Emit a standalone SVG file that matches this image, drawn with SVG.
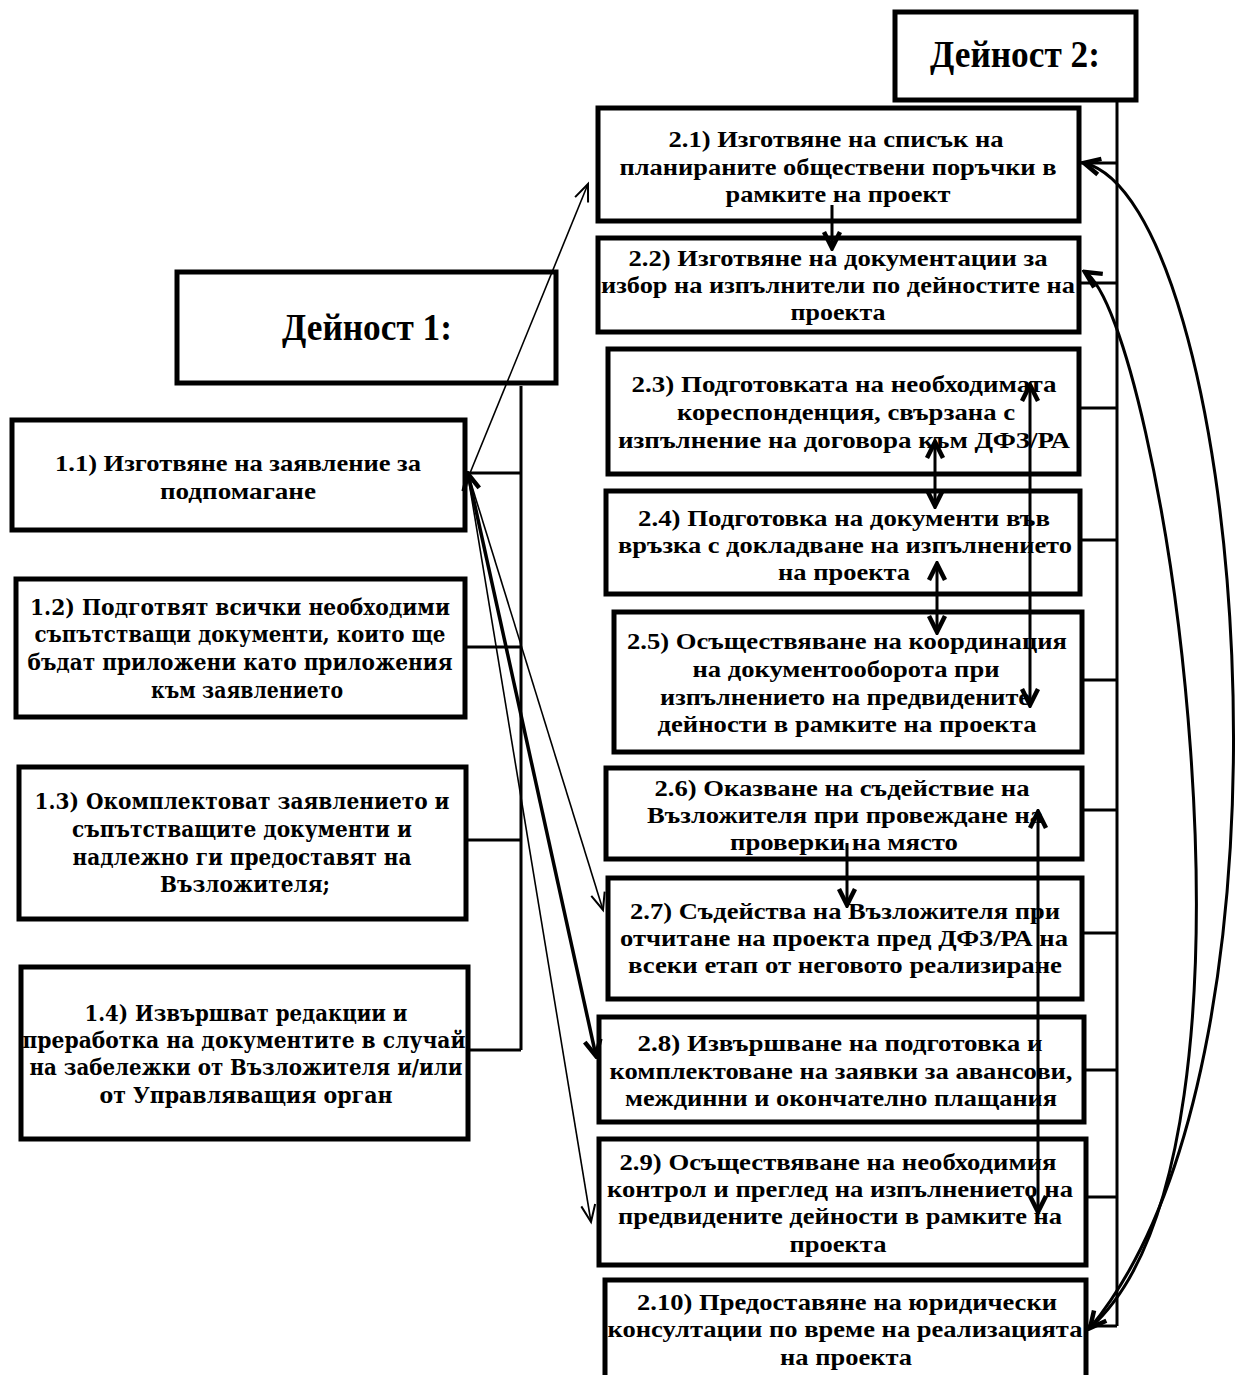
<svg xmlns="http://www.w3.org/2000/svg" width="1248" height="1375" viewBox="0 0 1248 1375">
<style>
.box{fill:#fff;stroke:#000;stroke-width:5}
.t{font-family:"Liberation Serif","Times New Roman",serif;font-weight:bold;font-size:24px;text-anchor:middle;fill:#000}
.h{font-family:"Liberation Serif","Times New Roman",serif;font-weight:bold;font-size:37px;text-anchor:middle;fill:#000}
.w{font-family:"DejaVu Serif",serif;font-weight:bold;font-size:22px;text-anchor:middle;fill:#000}
.ln{fill:none;stroke:#000;stroke-width:3}
.thin{fill:none;stroke:#000;stroke-width:1.6}
.thk{fill:none;stroke:#000;stroke-width:3.5}
</style>
<defs>
<marker id="av" markerUnits="userSpaceOnUse" markerWidth="24" markerHeight="24" viewBox="0 0 24 24" refX="21" refY="12" orient="auto-start-reverse">
<path d="M5,4 L21,12 L5,20" fill="none" stroke="#000" stroke-width="4.5" stroke-linejoin="miter"/>
</marker>
<marker id="at" markerUnits="userSpaceOnUse" markerWidth="24" markerHeight="24" viewBox="0 0 24 24" refX="21" refY="12" orient="auto-start-reverse">
<path d="M4,5 L21,12 L4,19" fill="none" stroke="#000" stroke-width="2"/>
</marker>
</defs>

<g id="d2">
<rect class="box" x="895" y="12" width="241" height="88"/>
<text class="h" x="1015" y="67" textLength="170" lengthAdjust="spacingAndGlyphs">Дейност 2:</text>
</g>
<g id="d1">
<rect class="box" x="177" y="272" width="379" height="111"/>
<text class="h" x="367" y="340" textLength="170" lengthAdjust="spacingAndGlyphs">Дейност 1:</text>
</g>

<g id="n11">
<rect class="box" x="12" y="420" width="453" height="110"/>
<text class="t" x="238" y="471" textLength="366" lengthAdjust="spacingAndGlyphs">1.1) Изготвяне на заявление за</text>
<text class="t" x="238" y="499" textLength="156" lengthAdjust="spacingAndGlyphs">подпомагане</text>
</g>
<g id="n12">
<rect class="box" x="16" y="579" width="449" height="138"/>
<text class="w" x="240" y="615" textLength="420" lengthAdjust="spacingAndGlyphs">1.2) Подготвят всички необходими</text>
<text class="w" x="240" y="642" textLength="411" lengthAdjust="spacingAndGlyphs">съпътстващи документи, които ще</text>
<text class="w" x="240" y="670" textLength="425" lengthAdjust="spacingAndGlyphs">бъдат приложени като приложения</text>
<text class="w" x="247" y="698" textLength="192" lengthAdjust="spacingAndGlyphs">към заявлението</text>
</g>
<g id="n13">
<rect class="box" x="19" y="767" width="447" height="152"/>
<text class="w" x="242" y="809" textLength="415" lengthAdjust="spacingAndGlyphs">1.3) Окомплектоват заявлението и</text>
<text class="w" x="242" y="837" textLength="340" lengthAdjust="spacingAndGlyphs">съпътстващите документи и</text>
<text class="w" x="242" y="865" textLength="339" lengthAdjust="spacingAndGlyphs">надлежно ги предоставят на</text>
<text class="w" x="245" y="892" textLength="170" lengthAdjust="spacingAndGlyphs">Възложителя;</text>
</g>
<g id="n14">
<rect class="box" x="21" y="967" width="447" height="172"/>
<text class="w" x="246" y="1021" textLength="323" lengthAdjust="spacingAndGlyphs">1.4) Извършват редакции и</text>
<text class="w" x="244" y="1048" textLength="443" lengthAdjust="spacingAndGlyphs">преработка на документите в случай</text>
<text class="w" x="246" y="1075" textLength="433" lengthAdjust="spacingAndGlyphs">на забележки от Възложителя и/или</text>
<text class="w" x="246" y="1103" textLength="293" lengthAdjust="spacingAndGlyphs">от Управляващия орган</text>
</g>

<g id="n21">
<rect class="box" x="598" y="108" width="481" height="113"/>
<text class="t" x="836" y="147" textLength="335" lengthAdjust="spacingAndGlyphs">2.1) Изготвяне на списък на</text>
<text class="t" x="838" y="175" textLength="437" lengthAdjust="spacingAndGlyphs">планираните обществени поръчки в</text>
<text class="t" x="838" y="202" textLength="225" lengthAdjust="spacingAndGlyphs">рамките на проект</text>
</g>
<g id="n22">
<rect class="box" x="598" y="238" width="481" height="94"/>
<text class="t" x="838" y="266" textLength="419" lengthAdjust="spacingAndGlyphs">2.2) Изготвяне на документации за</text>
<text class="t" x="838" y="293" textLength="474" lengthAdjust="spacingAndGlyphs">избор на изпълнители по дейностите на</text>
<text class="t" x="838" y="320" textLength="95" lengthAdjust="spacingAndGlyphs">проекта</text>
</g>
<g id="n23">
<rect class="box" x="608" y="349" width="471" height="125"/>
<text class="t" x="844" y="392" textLength="425" lengthAdjust="spacingAndGlyphs">2.3) Подготовката на необходимата</text>
<text class="t" x="846" y="420" textLength="338" lengthAdjust="spacingAndGlyphs">кореспонденция, свързана с</text>
<text class="t" x="844" y="448" textLength="452" lengthAdjust="spacingAndGlyphs">изпълнение на договора към ДФЗ/РА</text>
</g>
<g id="n24">
<rect class="box" x="606" y="491" width="474" height="103"/>
<text class="t" x="844" y="526" textLength="412" lengthAdjust="spacingAndGlyphs">2.4) Подготовка на документи във</text>
<text class="t" x="845" y="553" textLength="454" lengthAdjust="spacingAndGlyphs">връзка с докладване на изпълнението</text>
<text class="t" x="844" y="580" textLength="132" lengthAdjust="spacingAndGlyphs">на проекта</text>
</g>
<g id="n25">
<rect class="box" x="614" y="612" width="468" height="140"/>
<text class="t" x="847" y="649" textLength="440" lengthAdjust="spacingAndGlyphs">2.5) Осъществяване на координация</text>
<text class="t" x="846" y="677" textLength="307" lengthAdjust="spacingAndGlyphs">на документооборота при</text>
<text class="t" x="845" y="705" textLength="370" lengthAdjust="spacingAndGlyphs">изпълнението на предвидените</text>
<text class="t" x="847" y="732" textLength="379" lengthAdjust="spacingAndGlyphs">дейности в рамките на проекта</text>
</g>
<g id="n26">
<rect class="box" x="606" y="768" width="476" height="91"/>
<text class="t" x="842" y="796" textLength="375" lengthAdjust="spacingAndGlyphs">2.6) Оказване на съдействие на</text>
<text class="t" x="845" y="823" textLength="396" lengthAdjust="spacingAndGlyphs">Възложителя при провеждане на</text>
<text class="t" x="844" y="850" textLength="228" lengthAdjust="spacingAndGlyphs">проверки на място</text>
</g>
<g id="n27">
<rect class="box" x="608" y="878" width="474" height="121"/>
<text class="t" x="845" y="919" textLength="430" lengthAdjust="spacingAndGlyphs">2.7) Съдейства на Възложителя при</text>
<text class="t" x="844" y="946" textLength="448" lengthAdjust="spacingAndGlyphs">отчитане на проекта пред ДФЗ/РА на</text>
<text class="t" x="845" y="973" textLength="434" lengthAdjust="spacingAndGlyphs">всеки етап от неговото реализиране</text>
</g>
<g id="n28">
<rect class="box" x="599" y="1017" width="485" height="105"/>
<text class="t" x="840" y="1051" textLength="405" lengthAdjust="spacingAndGlyphs">2.8) Извършване на подготовка и</text>
<text class="t" x="841" y="1079" textLength="463" lengthAdjust="spacingAndGlyphs">комплектоване на заявки за авансови,</text>
<text class="t" x="841" y="1106" textLength="432" lengthAdjust="spacingAndGlyphs">междинни и окончателно плащания</text>
</g>
<g id="n29">
<rect class="box" x="599" y="1139" width="487" height="126"/>
<text class="t" x="838" y="1170" textLength="437" lengthAdjust="spacingAndGlyphs">2.9) Осъществяване на необходимия</text>
<text class="t" x="840" y="1197" textLength="466" lengthAdjust="spacingAndGlyphs">контрол и преглед на изпълнението на</text>
<text class="t" x="840" y="1224" textLength="444" lengthAdjust="spacingAndGlyphs">предвидените дейности в рамките на</text>
<text class="t" x="838" y="1252" textLength="97" lengthAdjust="spacingAndGlyphs">проекта</text>
</g>
<g id="n210">
<rect class="box" x="605" y="1280" width="481" height="100"/>
<text class="t" x="847" y="1310" textLength="420" lengthAdjust="spacingAndGlyphs">2.10) Предоставяне на юридически</text>
<text class="t" x="845" y="1337" textLength="475" lengthAdjust="spacingAndGlyphs">консултации по време на реализацията</text>
<text class="t" x="846" y="1365" textLength="132" lengthAdjust="spacingAndGlyphs">на проекта</text>
</g>

<g id="connectors">
<path class="ln" d="M521,386 V1050 M467,473 H521 M467,647 H521 M468,840 H521 M470,1050 H521"/>
<path class="ln" d="M1117,102 V1326 M1081,163 H1117 M1081,283 H1117 M1081,408 H1117 M1082,540 H1117 M1084,680 H1117 M1084,810 H1117 M1084,933 H1117 M1086,1070 H1117 M1088,1197 H1117 M1088,1326 H1117"/>
<line class="thin" x1="468" y1="478" x2="588" y2="184" marker-end="url(#at)"/>
<line class="thin" x1="470" y1="480" x2="603" y2="910" marker-end="url(#at)"/>
<line class="thk" x1="468" y1="474" x2="596" y2="1056" marker-start="url(#av)" marker-end="url(#av)"/>
<line class="thin" x1="469" y1="482" x2="591" y2="1222" marker-end="url(#at)"/>
<line class="ln" x1="832" y1="205" x2="832" y2="248" marker-end="url(#av)"/>
<line class="ln" x1="935" y1="442" x2="935" y2="506" marker-start="url(#av)" marker-end="url(#av)"/>
<line class="ln" x1="937" y1="564" x2="937" y2="632" marker-start="url(#av)" marker-end="url(#av)"/>
<line class="ln" x1="1030" y1="385" x2="1030" y2="705" marker-start="url(#av)" marker-end="url(#av)"/>
<line class="ln" x1="847" y1="843" x2="847" y2="905" marker-end="url(#av)"/>
<line class="ln" x1="1038" y1="812" x2="1038" y2="1212" marker-start="url(#av)" marker-end="url(#av)"/>
<path class="ln" d="M1084,163 C1240,200 1320,1050 1090,1328" marker-start="url(#av)" marker-end="url(#av)"/>
<path class="ln" d="M1085,272 C1160,320 1290,1150 1090,1328" marker-start="url(#av)"/>
</g>
</svg>
